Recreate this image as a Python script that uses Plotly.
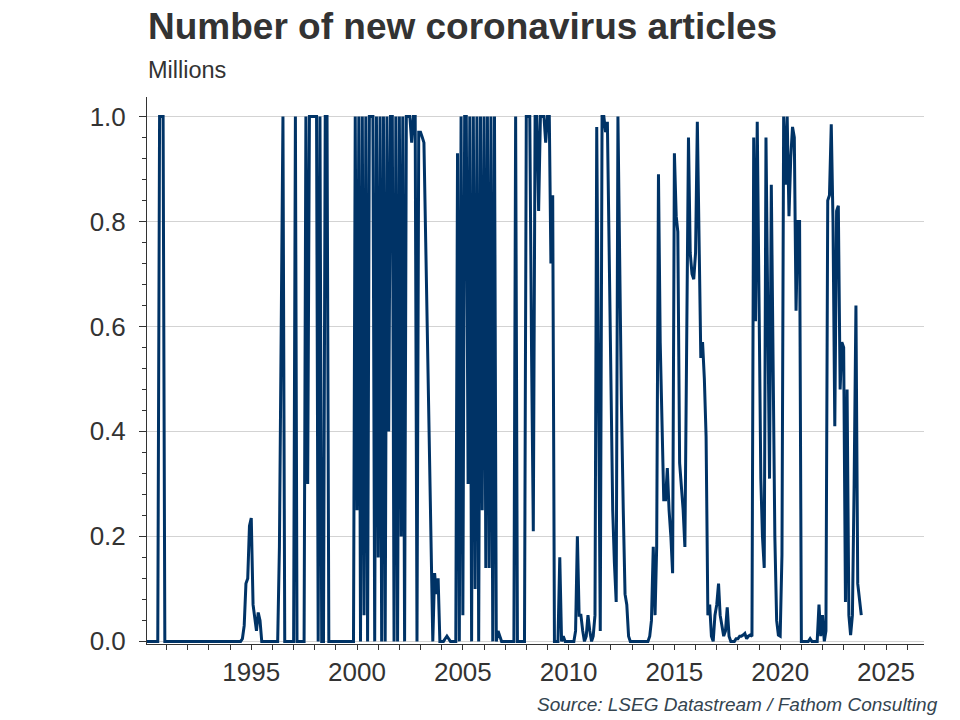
import pandas as pd
import plotly.graph_objects as go

# Monthly values (millions), Jan 1990 onward, one row per year
values_1990s = [
    0, 0, 0, 0, 0, 0, 0, 0, 1, 1, 1, 0,                         # 1990
    0, 0, 0, 0, 0, 0, 0, 0, 0, 0, 0, 0,                         # 1991
    0, 0, 0, 0, 0, 0, 0, 0, 0, 0, 0, 0,                         # 1992
    0, 0, 0, 0, 0, 0, 0, 0, 0, 0, 0, 0,                         # 1993
    0, 0, 0, 0, 0, 0, 0, 0.005, 0.03, 0.11, 0.12, 0.22,         # 1994
    0.235, 0.07, 0.05, 0.02, 0.055, 0.04, 0, 0, 0, 0, 0, 0,     # 1995
    0, 0, 0, 0, 0.18, 0.55, 1, 0, 0, 0, 0, 0,                   # 1996
    0, 1, 0, 0, 0, 0, 0, 1, 0.3, 1, 1, 1,                       # 1997
    1, 1, 0, 1, 0, 0, 1, 1, 0, 0, 0, 0,                         # 1998
    0, 0, 0, 0, 0, 0, 0, 0, 0, 0, 0, 1,                         # 1999
]
values_2000s = [
    0.25, 1, 0, 1, 0.05, 1, 0, 1, 1, 1, 0, 1,                   # 2000
    0.16, 1, 0, 1, 0, 1, 0.4, 1, 1, 0, 1, 0,                    # 2001
    1, 0.2, 1, 0, 1, 1, 1, 0.95, 1, 1, 0, 0.97,                 # 2002
    0.97, 0.96, 0.95, 0.76, 0.57, 0.38, 0.19, 0, 0.13, 0.09, 0.12, 0,  # 2003
    0, 0, 0.005, 0.01, 0.005, 0, 0, 0, 0, 0.93, 0, 1,           # 2004
    0.05, 1, 1, 0.3, 1, 0, 1, 0.1, 1, 0, 1, 0.25,               # 2005
    1, 0.14, 1, 0.14, 1, 0, 1, 0, 0.02, 0.01, 0, 0,             # 2006
    0, 0, 0, 0, 0, 0, 1, 0, 0, 0, 0, 0,                         # 2007
    1, 1, 1, 0.55, 0.21, 1, 1, 0.82, 1, 1, 1, 0.95,             # 2008
    1, 1, 0.72, 0.85, 0, 0, 0, 0.16, 0, 0.01, 0, 0,             # 2009
]
values_2010s = [
    0, 0, 0, 0, 0.02, 0.2, 0.05, 0.05, 0.02, 0, 0.01, 0.05,     # 2010
    0.02, 0, 0.01, 0.05, 0.98, 0.5, 0.02, 1, 1, 0.97, 0.99, 0.75,  # 2011
    0.5, 0.25, 0.15, 0.075, 1, 0.7, 0.45, 0.25, 0.09, 0.07, 0.01, 0,  # 2012
    0, 0, 0, 0, 0, 0, 0, 0, 0, 0, 0.01, 0.04,                   # 2013
    0.18, 0.05, 0.18, 0.89, 0.57, 0.4, 0.27, 0.27, 0.33, 0.25, 0.2, 0.13,  # 2014
    0.93, 0.81, 0.78, 0.34, 0.3, 0.25, 0.18, 0.57, 0.96, 0.74, 0.7, 0.69,  # 2015
    0.74, 0.99, 0.76, 0.54, 0.57, 0.5, 0.39, 0.05, 0.07, 0.01, 0, 0.05,    # 2016
    0.07, 0.11, 0.05, 0.03, 0.01, 0.02, 0.065, 0.01, 0, 0, 0, 0.005,       # 2017
    0.005, 0.01, 0.01, 0.012, 0.015, 0.005, 0.01, 0.012, 0.01, 0.96, 0.61, 0.99,  # 2018
    0.62, 0.31, 0.2, 0.14, 0.96, 0.6, 0.31, 0.87, 0.5, 0.2, 0.04, 0.012,   # 2019
]
values_2020s = [
    0.01, 0.165, 1, 0.87, 1, 0.81, 0.92, 0.98, 0.96, 0.63, 0.8, 0.8,      # 2020
    0, 0, 0, 0, 0, 0.005, 0, 0, 0, 0, 0.07, 0.01,               # 2021
    0.05, 0, 0.02, 0.84, 0.85, 0.985, 0.8, 0.41, 0.82, 0.83, 0.48, 0.57,   # 2022
    0.56, 0.075, 0.48, 0.05, 0.012, 0.05, 0.3, 0.64, 0.11, 0.08, 0.05,     # 2023 (to Nov)
]

values = values_1990s + values_2000s + values_2010s + values_2020s
dates = pd.date_range("1990-01-01", periods=len(values), freq="MS")

TITLE = "Number of new coronavirus articles"
SUBTITLE = "Millions"
SOURCE = "Source: LSEG Datastream / Fathom Consulting"

FONT = "Liberation Sans, Arial, sans-serif"
NAVY = "#003366"
INK = "#333333"

fig = go.Figure(
    go.Scatter(
        x=dates, y=values, mode="lines",
        line=dict(color=NAVY, width=3),
        hoverinfo="x+y", showlegend=False,
    )
)

W, H = 960, 720
ML, MR, MT, MB = 147, 36, 97, 76
PW, PH = W - ML - MR, H - MT - MB

def px_x(x):
    return (x - ML) / PW

def px_y(y):
    return (H - MB - y) / PH

fig.update_layout(
    width=W, height=H,
    margin=dict(l=ML, r=MR, t=MT, b=MB),
    paper_bgcolor="white", plot_bgcolor="white",
    font=dict(family=FONT, color=INK),
    xaxis=dict(
        type="date",
        range=["1990-01-27", "2026-10-19"],
        dtick="M60", tick0="1990-01-01", tickformat="%Y",
        ticks="outside", ticklen=5, tickcolor=INK, tickwidth=1,
        minor=dict(dtick="M12", tick0="1990-01-01", ticks="outside",
                   ticklen=5, tickcolor=INK, showgrid=False),
        showgrid=False, zeroline=False,
        showline=True, linecolor=INK, linewidth=1,
        tickfont=dict(size=26, color=INK, family=FONT),
    ),
    yaxis=dict(
        range=[-0.005, 1.037],
        dtick=0.2, tick0=0, tickformat=".1f",
        ticks="outside", ticklen=7, tickcolor=INK, tickwidth=1,
        minor=dict(dtick=0.04, tick0=0, ticks="outside", ticklen=4,
                   tickcolor=INK, showgrid=False),
        showgrid=True, gridcolor="#d3d3d3", gridwidth=1,
        zeroline=False,
        showline=True, linecolor=INK, linewidth=1,
        tickfont=dict(size=26, color=INK, family=FONT),
        ticklabelstandoff=8,
    ),
    annotations=[
        dict(text="<b>" + TITLE + "</b>", xref="paper", yref="paper",
             x=px_x(146), y=px_y(26), xanchor="left", yanchor="middle",
             showarrow=False, font=dict(size=37, color=INK, family=FONT)),
        dict(text=SUBTITLE, xref="paper", yref="paper",
             x=px_x(146), y=px_y(69.5), xanchor="left", yanchor="middle",
             showarrow=False, font=dict(size=23.5, color=INK, family=FONT)),
        dict(text="<i>" + SOURCE + "</i>", xref="paper", yref="paper",
             x=px_x(940), y=px_y(704), xanchor="right", yanchor="middle",
             showarrow=False, font=dict(size=19, color="#34444f", family=FONT)),
    ],
)

# remove the browser's default 8px page margin so the figure sits at (0, 0)
fig.write_html(
    "out.html",
    config={"displayModeBar": False},
    post_script="document.body.style.margin='0';",
)
